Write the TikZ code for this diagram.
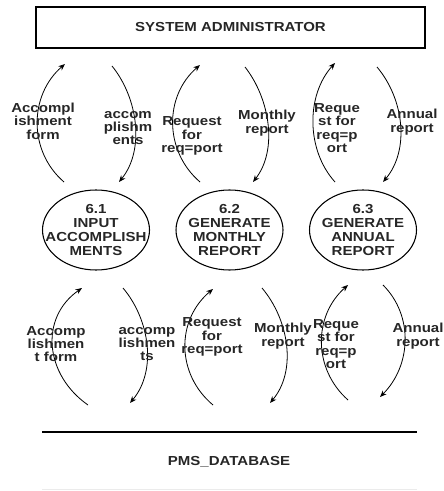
\documentclass[tikz,border=0pt]{standalone}
\usepackage{fontspec}
\setmainfont{Liberation Sans}[FakeStretch=1.15]
\usetikzlibrary{shapes.geometric,arrows.meta,calc}
\begin{document}
\begin{tikzpicture}[x=0.75pt,y=-0.75pt,
  lbl/.style={font=\bfseries\fontsize{9.8}{10}\selectfont, align=center, inner sep=0pt, text=black!85},
  proc/.style={ellipse, draw, line width=0.8pt, minimum width=80.25pt, minimum height=60pt, inner sep=0pt},
  ptext/.style={align=center, inner sep=0pt, font=\bfseries\fontsize{9.8}{10.5}\selectfont, text=black!85},
  ext/.style={draw, line width=0.8pt, minimum width=291.75pt, minimum height=30.75pt, inner sep=0pt, font=\bfseries\fontsize{9.8}{10}\selectfont, text=black!85},
  flow/.style={line width=0.6pt, -{Stealth[length=5pt,width=4pt]}}]
\useasboundingbox (0,0) rectangle (443,491);

% external entity
\node[ext] (admin) at (230.5,27.5) {SYSTEM ADMINISTRATOR};

% processes
\node[proc] (p1) at (96,230) {};
\node[proc] (p2) at (229.5,230) {};
\node[proc] (p3) at (363,230) {};
\node[ptext] (p1t) at (p1.center) {6.1\\INPUT\\ACCOMPLISH\\MENTS};
\node[ptext] (p2t) at (p2.center) {6.2\\GENERATE\\MONTHLY\\REPORT};
\node[ptext] (p3t) at (p3.center) {6.3\\GENERATE\\ANNUAL\\REPORT};

% data store
\coordinate (dbl) at (42,432);
\coordinate (dbr) at (417,432);
\coordinate (dbl2) at (42,489);
\coordinate (dbr2) at (417,489);
\draw[line width=0.8pt] (dbl) -- (dbr);
\draw[line width=0.6pt, black!8] (dbl2) -- (dbr2);
\node[lbl] (db) at (229,462) {PMS\_DATABASE};

% top arcs endpoints
\coordinate (a1s) at (64,182);  \coordinate (a1e) at (65,64);
\coordinate (a2s) at (112,66);  \coordinate (a2e) at (119,182);
\coordinate (a3s) at (200,182); \coordinate (a3e) at (200,65);
\coordinate (a4s) at (245,67);  \coordinate (a4e) at (253,182);
\coordinate (a5s) at (335,182); \coordinate (a5e) at (335,63);
\coordinate (a6s) at (377,67);  \coordinate (a6e) at (383,182);

\draw[flow] (a1s) .. controls ($(a1s)+(-36,-31)$) and ($(a1e)+(-36,31)$) .. (a1e);
\draw[flow] (a2s) .. controls ($(a2s)+(26,32)$) and ($(a2e)+(26,-32)$) .. (a2e);
\draw[flow] (a3s) .. controls ($(a3s)+(-36,-31)$) and ($(a3e)+(-36,31)$) .. (a3e);
\draw[flow] (a4s) .. controls ($(a4s)+(25,32)$) and ($(a4e)+(25,-32)$) .. (a4e);
\draw[flow] (a5s) .. controls ($(a5s)+(-29,-32)$) and ($(a5e)+(-29,32)$) .. (a5e);
\draw[flow] (a6s) .. controls ($(a6s)+(27,32)$) and ($(a6e)+(27,-32)$) .. (a6e);

% bottom arcs endpoints
\coordinate (b1s) at (88,405);  \coordinate (b1e) at (82,288);
\coordinate (b2s) at (123,288); \coordinate (b2e) at (130,403);
\coordinate (b3s) at (213,405); \coordinate (b3e) at (213,289);
\coordinate (b4s) at (262,288); \coordinate (b4e) at (270,403);
\coordinate (b5s) at (348,400); \coordinate (b5e) at (348,285);
\coordinate (b6s) at (383,285); \coordinate (b6e) at (380,397);

\draw[flow] (b1s) .. controls ($(b1s)+(-43,-30)$) and ($(b1e)+(-43,30)$) .. (b1e);
\draw[flow] (b2s) .. controls ($(b2s)+(27,32)$) and ($(b2e)+(27,-32)$) .. (b2e);
\draw[flow] (b3s) .. controls ($(b3s)+(-37,-31)$) and ($(b3e)+(-37,31)$) .. (b3e);
\draw[flow] (b4s) .. controls ($(b4s)+(27,32)$) and ($(b4e)+(27,-32)$) .. (b4e);
\draw[flow] (b5s) .. controls ($(b5s)+(-35,-31)$) and ($(b5e)+(-35,31)$) .. (b5e);
\draw[flow] (b6s) .. controls ($(b6s)+(31,31)$) and ($(b6e)+(31,-31)$) .. (b6e);

% top labels
\node[lbl] (l1) at (43,121) {Accompl\\ishment\\form};
\node[lbl] (l2) at (128,128) {accom\\plishm\\ents};
\node[lbl] (l3) at (192,136) {Request\\for\\req=port};
\node[lbl] (l4) at (267,123) {Monthly\\report};
\node[lbl] (l5) at (337,128) {Reque\\st for\\req=p\\ort};
\node[lbl] (l6) at (412,122) {Annual\\report};

% bottom labels
\node[lbl] (m1) at (56,344) {Accomp\\lishmen\\t form};
\node[lbl] (m2) at (147,344) {accomp\\lishmen\\ts};
\node[lbl] (m3) at (212,337) {Request\\for\\req=port};
\node[lbl] (m4) at (283,336) {Monthly\\report};
\node[lbl] (m5) at (336,344) {Reque\\st for\\req=p\\ort};
\node[lbl] (m6) at (418,336) {Annual\\report};
\end{tikzpicture}
\end{document}
